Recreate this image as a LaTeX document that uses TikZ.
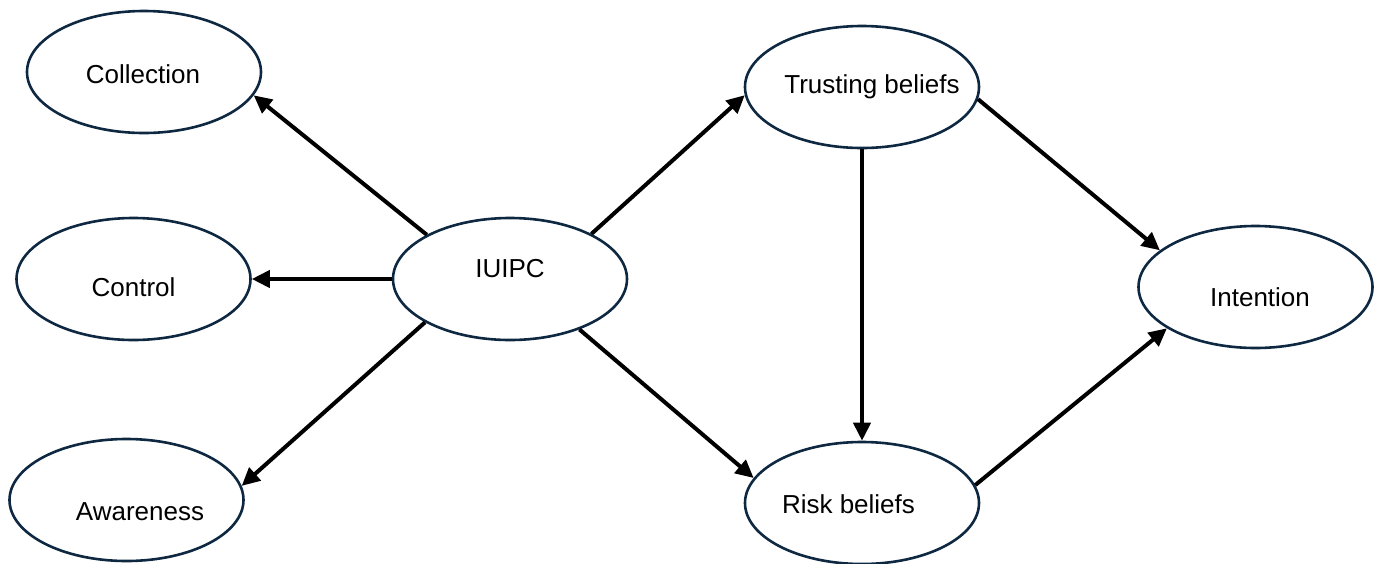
\documentclass[tikz,border=0pt]{standalone}
\usepackage{fontspec}
\setmainfont{Liberation Sans}
\usetikzlibrary{shapes.geometric,arrows.meta}
\definecolor{navy}{RGB}{14,40,65}
\tikzset{
  construct/.style={ellipse, draw=navy, line width=2.6pt, minimum width=234pt,
    minimum height=122pt, inner sep=0pt, fill=white},
  txt/.style={font=\fontsize{26}{30}\selectfont, text=black},
  link/.style={line width=4pt, draw=black, -{Triangle[length=18pt,width=17pt]}}
}
\begin{document}
\begin{tikzpicture}[x=1pt,y=-1pt]
\useasboundingbox (0,0) rectangle (1379,563);
\node[construct, label={[txt, xshift=-1pt, yshift=-2pt]center:Collection}] (coll) at (144,72) {};
\node[construct, label={[txt, yshift=-8pt]center:Control}] (ctrl) at (133.5,279) {};
\node[construct, label={[txt, xshift=13.5pt, yshift=-12pt]center:Awareness}] (aware) at (126.5,500) {};
\node[construct, label={[txt, yshift=10pt]center:IUIPC}] (iuipc) at (510,279) {};
\node[construct, label={[txt, xshift=10pt, yshift=0pt]center:Trusting beliefs}] (trust) at (862,87) {};
\node[construct, label={[txt, xshift=-13.5pt, yshift=-1pt]center:Risk beliefs}] (risk) at (862,503) {};
\node[construct, label={[txt, xshift=4.5pt, yshift=-10pt]center:Intention}] (intent) at (1255.5,287) {};

\draw[link] (iuipc.152.6) -- (coll.-12);
\draw[link] (iuipc.west) -- (ctrl.east);
\draw[link] (iuipc.207.4) -- (aware.7.5);
\draw[link] (iuipc.29.4) -- (trust.184);
\draw[link] (iuipc.-36.9) -- (risk.167);
\draw[link] (trust.south) -- (risk.north);
\draw[link] (trust.-6.6) -- (intent.159.3);
\draw[link] (risk.9.9) -- (intent.205);
\end{tikzpicture}
\end{document}
